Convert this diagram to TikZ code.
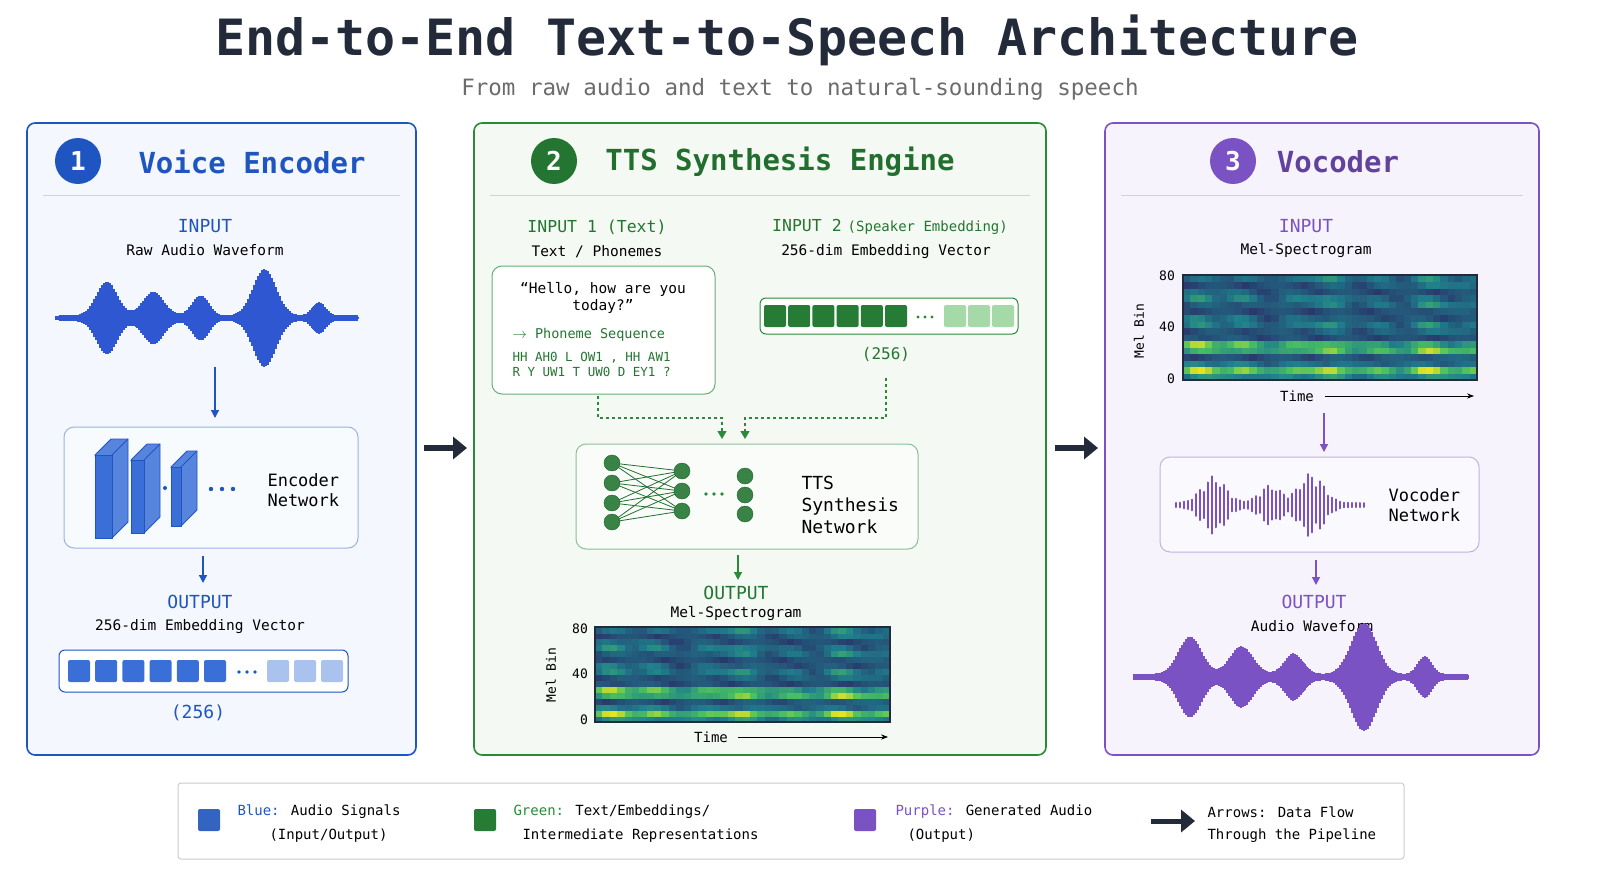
\documentclass[tikz,border=0pt]{standalone}
\usepackage{fontspec}
\setmainfont{DejaVu Sans Mono}
\usetikzlibrary{arrows.meta,positioning}
\definecolor{bl}{HTML}{1F55C0}
\definecolor{blfill}{HTML}{F4F8FE}
\definecolor{blsq}{HTML}{3A6FD8}
\definecolor{bllt}{HTML}{A9C2EE}
\definecolor{gr}{HTML}{2A8A3A}
\definecolor{grfill}{HTML}{F4FAF3}
\definecolor{grlt}{HTML}{A6D9A8}
\definecolor{pu}{HTML}{7B52C4}
\definecolor{pufill}{HTML}{F6F3FC}
\definecolor{navy}{HTML}{232B3A}
\definecolor{cA}{HTML}{2C1A5E}
\definecolor{cB}{HTML}{1F7F8C}
\definecolor{cC}{HTML}{4CC25E}
\definecolor{cD}{HTML}{F0E51E}
\newcommand\fs[1]{\fontsize{#1pt}{1.2\dimexpr #1pt\relax}\selectfont}
\pgfmathdeclarefunction{bump}{3}{\pgfmathparse{exp(-min(20,((#1-#2)/#3)^2))}}
% waveform: x0 x1 ymid amp color
\newcommand\mywave[5]{%
  \foreach \xx in {#1,...,#2}{%
    \pgfmathsetmacro\uu{(\xx-#1)/(#2-#1)}%
    \pgfmathsetmacro\envv{0.06+0.75*bump(\uu,0.17,0.05)+0.55*bump(\uu,0.32,0.05)+0.45*bump(\uu,0.48,0.04)+1.0*bump(\uu,0.69,0.055)+0.35*bump(\uu,0.87,0.03)}%
    \pgfmathsetmacro\rr{mod(\xx*7,360)}%
    \pgfmathsetmacro\aa{#4*\envv*(0.35+0.65*abs(sin(\rr*13)))}%
    \draw[#5,line width=1.1] (\xx,#3-\aa) -- (\xx,#3+\aa);}}
% spectrogram: x0 y0 w h
\newcommand\myspec[4]{%
  \foreach \i in {0,...,39}{\foreach \j in {0,...,15}{%
    \pgfmathsetmacro\scol{0.45+0.4*sin(\i*41)*cos(\i*17)}%
    \pgfmathsetmacro\sband{0.5+0.5*sin(\j*(95+\i*0.3))}%
    \pgfmathsetmacro\slow{(\j<6)*0.35}%
    \pgfmathsetmacro\tv{max(0,min(99,100*(0.15+0.45*\scol*\sband+\slow*\sband+0.15*abs(sin(\i*23+\j*51)))))}%
    \ifdim\tv pt<50pt
      \pgfmathsetmacro\sm{2*\tv}\colorlet{cc}{cB!\sm!cA}%
    \else
      \pgfmathsetmacro\sm{2*(\tv-50)}%
      \ifdim\sm pt<60pt \pgfmathsetmacro\smm{\sm/0.6}\colorlet{cc}{cC!\smm!cB}\else\pgfmathsetmacro\smm{(\sm-60)/0.4}\colorlet{cc}{cD!\smm!cC}\fi
    \fi
    \fill[cc] ({#1+\i*#3/40},{#2+#4-(\j+1)*#4/16}) rectangle ++({#3/40+0.6},{#4/16+0.6});}}
  \draw[navy,line width=1.2] (#1,#2) rectangle ++(#3,#4);}
\tikzset{
  x=1pt,y=-1pt,
  panel/.style={rounded corners=8,line width=1.6},
  inner/.style={rounded corners=10,line width=1},
  arr/.style={-{Triangle[length=8,width=8]},line width=1.4},
  bigarr/.style={-{Triangle[length=14,width=22]},line width=6,navy},
  num/.style={circle,minimum size=46,inner sep=0,text=white,font=\fs{26}\bfseries},
  ptitle/.style={font=\fs{29}\bfseries},
  lab/.style={font=\fs{18}},
  txt/.style={font=\fs{14.5}},
  sq/.style={rounded corners=2,minimum size=22,inner sep=0},
  neu/.style={circle,fill=gr!85!black!90,draw=gr!70!black,minimum size=16,inner sep=0},
}
\begin{document}
\begin{tikzpicture}
\useasboundingbox (0,0) rectangle (1600,896);
\fill[white] (0,0) rectangle (1600,896);
\node[font=\fs{50}\bfseries,text=navy] (title) at (787,40) {End-to-End Text-to-Speech Architecture};
\node[font=\fs{22.5},text=gray!85!black] (sub) at (800,89) {From raw audio and text to natural-sounding speech};

%%% Panel 1
\draw[panel,bl,fill=blfill] (27,123) rectangle (416,755);
\node[num,fill=bl] (n1) at (78,161) {1};
\node[ptitle,text=bl] (t1) at (252,162) {Voice Encoder};
\draw[gray!35] (43,195) -- (400,195);
\node[lab,text=bl] (in1) at (205,226) {INPUT};
\node[txt] (in1t) at (205,250) {Raw Audio Waveform};
\mywave{56}{358}{318}{46}{bl!80!blue!90}
\coordinate (a1s) at (215,367); \coordinate (a1e) at (215,418);
\draw[arr,bl] (a1s) -- (a1e);
\draw[inner,bl!45,fill=blfill!60!white] (64,427) rectangle (358,548);
\foreach \x/\ya/\yb/\w in {95/455/538/17,131/460/533/13,171/467/526/10}{
  \fill[blsq!85,draw=bl,line width=0.8] (\x,\ya) -- ++(16,-16) -- ++(\w,0) -- ++(0,{\yb-\ya}) -- ++(-16,16) -- cycle;
  \draw[bl,line width=0.8] (\x+\w,\ya) -- ++(16,-16);
  \fill[blsq,draw=bl,line width=0.8] (\x,\ya) rectangle (\x+\w,\yb);}
\fill[bl] (165,488) circle (2);
\foreach \x in {211,222,233} \fill[bl] (\x,489) circle (2.2);
\node[txt,font=\fs{17},align=left,anchor=west] (enc) at (264,490) {Encoder\\Network};
\coordinate (a2s) at (203,556); \coordinate (a2e) at (203,583);
\draw[arr,bl] (a2s) -- (a2e);
\node[lab,text=bl] (out1) at (200,602) {OUTPUT};
\node[txt] (out1t) at (200,627) {256-dim Embedding Vector};
\draw[inner,rounded corners=6,bl,fill=white] (59,650) rectangle (348,692);
\foreach \k in {0,...,5} \node[sq,fill=blsq] at (79+\k*27.2,671) {};
\foreach \x in {239,247,255} \fill[bl] (\x,672) circle (1.8);
\foreach \k in {0,1,2} \node[sq,fill=bllt] at (278+\k*27,671) {};
\node[lab,text=bl] (d1) at (198,713) {(256)};

\coordinate (b1s) at (424,448); \coordinate (b1e) at (467,448);
\draw[bigarr] (b1s) -- (b1e);

%%% Panel 2
\draw[panel,gr,fill=grfill] (474,123) rectangle (1046,755);
\node[num,fill=gr!85!black] (n2) at (554,161) {2};
\node[ptitle,text=gr!80!black] (t2) at (780,162) {TTS Synthesis Engine};
\draw[gray!35] (490,195) -- (1030,195);
\node[lab,text=gr!85!black,font=\fs{16.5}] (in21) at (597,227) {INPUT 1 (Text)};
\node[txt] (in21t) at (597,252) {Text / Phonemes};
\node[text=gr!85!black] (in22) at (890,227) {{\fs{16.5}INPUT 2} {\fs{14}(Speaker Embedding)}};
\node[txt] (in22t) at (886,252) {256-dim Embedding Vector};
\draw[inner,gr!70,fill=white] (492,266) rectangle (715,394);
\node[txt,align=center] (q) at (603,298) {“Hello, how are you\\today?”};
\node[text=gr!85!black,font=\fs{13.5},anchor=west] (ps) at (509,335) {$\rightarrow$ Phoneme Sequence};
\node[text=gr!85!black,font=\fs{12.5},anchor=west,align=left] (ph) at (509,364) {HH AH0 L OW1 , HH AW1\\R Y UW1 T UW0 D EY1 ?};
\draw[inner,rounded corners=6,gr,fill=white] (760,298) rectangle (1018,334);
\foreach \k in {0,...,5} \node[sq,fill=gr!90!black] at (775+\k*24.2,316) {};
\foreach \x in {918,925,932} \fill[gr] (\x,317) circle (1.7);
\foreach \k in {0,1,2} \node[sq,fill=grlt] at (955+\k*24,316) {};
\node[lab,text=gr!85!black,font=\fs{16}] (d2) at (886,354) {(256)};
\coordinate (t1s) at (598,396); \coordinate (t1e) at (722,439);
\coordinate (t2s) at (886,378); \coordinate (t2e) at (745,439);
\draw[gr,dashed,line width=1.3,-{Triangle[length=8,width=9]}] (t1s) -- (598,418) -- (722,418) -- (t1e);
\draw[gr,dashed,line width=1.3,-{Triangle[length=8,width=9]}] (t2s) -- (886,418) -- (745,418) -- (t2e);
\draw[inner,gr!55,fill=grfill!50!white] (576,444) rectangle (918,549);
\foreach \a in {463,483,503,522} \foreach \b in {471,491,511} \draw[gr!80!black,line width=0.8] (612,\a) -- (682,\b);
\foreach \a in {463,483,503,522} \node[neu] at (612,\a) {};
\foreach \b in {471,491,511} \node[neu] at (682,\b) {};
\foreach \x in {706,714,722} \fill[gr] (\x,494) circle (1.8);
\foreach \b in {476,495,514} \node[neu] at (745,\b) {};
\node[font=\fs{18},align=left,anchor=west] (tts) at (798,505) {TTS\\Synthesis\\Network};
\coordinate (a3s) at (738,555); \coordinate (a3e) at (738,580);
\draw[arr,gr] (a3s) -- (a3e);
\node[lab,text=gr!85!black] (out2) at (736,593) {OUTPUT};
\node[txt] (out2t) at (736,614) {Mel-Spectrogram};
\myspec{595}{627}{295}{95}
\node[font=\fs{13}] at (580,629) {80};
\node[font=\fs{13}] at (580,674) {40};
\node[font=\fs{13}] at (584,720) {0};
\node[font=\fs{13},rotate=90] at (551,675) {Mel Bin};
\node[font=\fs{14}] (time2) at (711,737) {Time};
\draw[-{Stealth[length=7]},line width=0.8] (738,737) -- (888,737);

\coordinate (b2s) at (1055,448); \coordinate (b2e) at (1098,448);
\draw[bigarr] (b2s) -- (b2e);

%%% Panel 3
\draw[panel,pu,fill=pufill] (1105,123) rectangle (1539,755);
\node[num,fill=pu] (n3) at (1233,161) {3};
\node[ptitle,text=pu!80!black] (t3) at (1338,162) {Vocoder};
\draw[gray!35] (1121,195) -- (1523,195);
\node[lab,text=pu] (in3) at (1306,226) {INPUT};
\node[txt] (in3t) at (1306,251) {Mel-Spectrogram};
\myspec{1183}{275}{294}{105}
\node[font=\fs{13}] at (1167,276) {80};
\node[font=\fs{13}] at (1167,327) {40};
\node[font=\fs{13}] at (1171,379) {0};
\node[font=\fs{13},rotate=90] at (1139,331) {Mel Bin};
\node[font=\fs{14}] (time3) at (1297,396) {Time};
\draw[-{Stealth[length=7]},line width=0.8] (1325,396) -- (1474,396);
\coordinate (a4s) at (1324,413); \coordinate (a4e) at (1324,452);
\draw[arr,pu] (a4s) -- (a4e);
\draw[inner,pu!45,fill=pufill!50!white] (1160,457) rectangle (1479,552);
\foreach \xx in {1176,1180,...,1364}{
  \pgfmathsetmacro\uu{(\xx-1176)/188}
  \pgfmathsetmacro\rr{mod(\xx*7,360)}
  \pgfmathsetmacro\aa{2+30*(0.9*bump(\uu,0.2,0.09)+0.6*bump(\uu,0.5,0.08)+1.0*bump(\uu,0.72,0.09))*(0.5+0.5*abs(sin(\rr*11)))}
  \draw[pu,line width=2,line cap=round] (\xx,505-\aa) -- (\xx,505+\aa);}
\node[font=\fs{17},align=left,anchor=west] (voc) at (1385,505) {Vocoder\\Network};
\coordinate (a5s) at (1316,560); \coordinate (a5e) at (1316,585);
\draw[arr,pu] (a5s) -- (a5e);
\node[lab,text=pu] (out3) at (1314,602) {OUTPUT};
\node[txt] (out3t) at (1312,626) {Audio Waveform};
\mywave{1134}{1468}{677}{52}{pu}

%%% Legend
\draw[gray!40,line width=1,rounded corners=3,fill=white] (178,783) rectangle (1404,859);
\node[sq,fill=blsq!90!black] (lb) at (209,820) {};
\node[anchor=west,font=\fs{14}] at (234,812) {\textcolor{bl}{Blue:} Audio Signals};
\node[anchor=west,font=\fs{14}] at (266,836) {(Input/Output)};
\node[sq,fill=gr!90!black] (lg) at (485,820) {};
\node[anchor=west,font=\fs{14}] at (510,812) {\textcolor{gr}{Green:} Text/Embeddings/};
\node[anchor=west,font=\fs{14}] at (519,836) {Intermediate Representations};
\node[sq,fill=pu] (lp) at (865,820) {};
\node[anchor=west,font=\fs{14}] at (892,812) {\textcolor{pu}{Purple:} Generated Audio};
\node[anchor=west,font=\fs{14}] at (904,836) {(Output)};
\coordinate (lgs) at (1151,821); \coordinate (lge) at (1195,821);
\draw[bigarr,line width=5] (lgs) -- (lge);
\node[anchor=west,font=\fs{14}] at (1204,812) {Arrows: Data Flow};
\node[anchor=west,font=\fs{14}] at (1204,836) {Through the Pipeline};
\end{tikzpicture}
\end{document}
